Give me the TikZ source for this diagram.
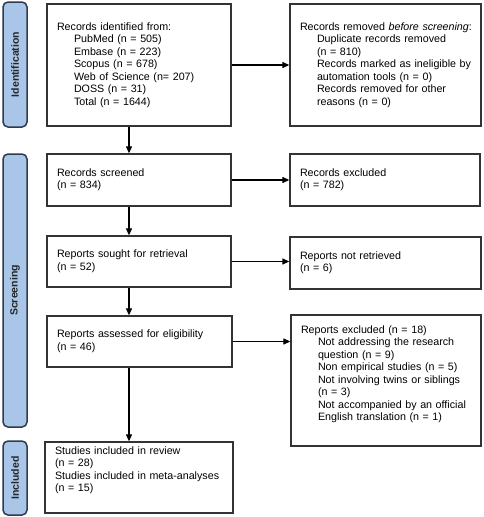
\documentclass[tikz,border=0pt]{standalone}
\usepackage{fontspec}
\setmainfont{Liberation Sans}
\usetikzlibrary{arrows.meta}
\definecolor{barfill}{HTML}{A9C5E8}
\definecolor{bardraw}{HTML}{2E3B4E}
\definecolor{boxdraw}{HTML}{333333}
\newcommand\ind{\hspace*{17pt}}
\begin{document}
\begin{tikzpicture}[x=1pt,y=-1pt,
  box/.style={draw=boxdraw, line width=1.3pt, fill=white, inner xsep=10pt, inner ysep=0pt,
    align=left, font=\fontsize{10.7}{12.5}\selectfont, anchor=center},
  bar/.style={draw=bardraw, fill=barfill, line width=1.5pt, rounded corners=5pt,
    minimum width=24pt, inner sep=0pt, anchor=center},
  barlabel/.style={rotate=90, font=\bfseries\fontsize{10.5}{12}\selectfont, text=black!85},
  arr/.style={line width=1.2pt, -{Triangle[length=7pt,width=6pt]}}]
\useasboundingbox (0,0) rectangle (483,517);

% phase bars
\node[bar, minimum height=125pt] (barid) at (15,64.5) {};
\node[barlabel] (lid) at (barid.center) {Identification};
\node[bar, minimum height=273pt] (barscr) at (15,290.5) {};
\node[barlabel] (lscr) at (barscr.center) {Screening};
\node[bar, minimum height=74pt] (barinc) at (15,478) {};
\node[barlabel] (linc) at (barinc.center) {Included};

% boxes
\node[box, minimum width=184pt, minimum height=122pt, text width=164pt] (id) at (139,65)
 {\begin{tabular}{@{}l@{}}Records identified from:\\ \ind PubMed (n = 505)\\ \ind Embase (n = 223)\\
  \ind Scopus (n = 678)\\ \ind Web of Science (n= 207)\\ \ind DOSS (n = 31)\\ \ind Total (n = 1644)\end{tabular}};
\node[box, minimum width=191pt, minimum height=122pt, text width=171pt] (rem) at (385.5,65)
 {\begin{tabular}{@{}l@{}}Records removed \textit{before screening}:\\ \ind Duplicate records removed\\ \ind (n = 810)\\
  \ind Records marked as ineligible by\\ \ind automation tools (n = 0)\\ \ind Records removed for other\\ \ind reasons (n = 0)\end{tabular}};
\node[box, minimum width=184pt, minimum height=52pt, text width=164pt] (scr) at (139,180)
 {\begin{tabular}{@{}l@{}}Records screened\\ (n = 834)\end{tabular}};
\node[box, minimum width=190pt, minimum height=52pt, text width=170pt] (exc) at (385,180)
 {\begin{tabular}{@{}l@{}}Records excluded\\ (n = 782)\end{tabular}};
\node[box, minimum width=184pt, minimum height=51pt, text width=164pt] (sought) at (139,261.5)
 {\begin{tabular}{@{}l@{}}Reports sought for retrieval\\ (n = 52)\end{tabular}};
\node[box, minimum width=191pt, minimum height=52pt, text width=171pt] (notret) at (385.5,263)
 {\begin{tabular}{@{}l@{}}Reports not retrieved\\ (n = 6)\end{tabular}};
\node[box, minimum width=185pt, minimum height=51pt, text width=165pt] (assess) at (139.5,341.5)
 {\begin{tabular}{@{}l@{}}Reports assessed for eligibility\\ (n = 46)\end{tabular}};
\node[box, minimum width=190pt, minimum height=131pt, text width=170pt] (rexc) at (386,380.5)
 {\begin{tabular}{@{}l@{}}Reports excluded (n = 18)\\ \ind Not addressing the research\\ \ind question (n = 9)\\
  \ind Non empirical studies (n = 5)\\ \ind Not involving twins or siblings\\ \ind (n = 3)\\
  \ind Not accompanied by an official\\ \ind English translation (n = 1)\\[12pt]\end{tabular}};
\node[box, minimum width=188pt, minimum height=71pt, text width=168pt] (incl) at (139,477.5)
 {\begin{tabular}{@{}l@{}}Studies included in review\\ (n = 28)\\ Studies included in meta-analyses\\ (n = 15)\\[14pt]\end{tabular}};

% connectors
\coordinate (ax) at (129,0);
\draw[arr] (id.south -| ax) -- (scr.north -| ax);
\draw[arr] (scr.south -| ax) -- (sought.north -| ax);
\draw[arr] (sought.south -| ax) -- (assess.north -| ax);
\draw[arr] (assess.south -| ax) -- (incl.north -| ax);
\draw[arr] (id.east) -- (id.east -| rem.west);
\draw[arr] (scr.east) -- (scr.east -| exc.west);
\draw[arr] (sought.east) -- (sought.east -| notret.west);
\draw[arr] (assess.east) -- (assess.east -| rexc.west);
\end{tikzpicture}
\end{document}
